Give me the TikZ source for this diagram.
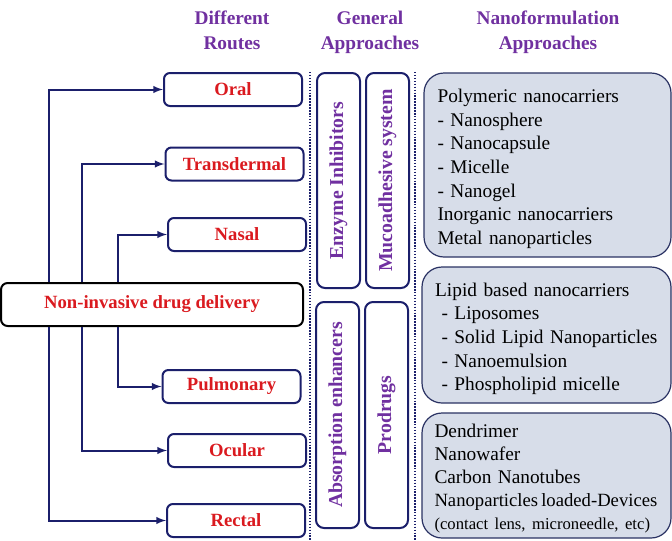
\documentclass[tikz,border=0pt]{standalone}
\usepackage{fontspec}
\setmainfont{Liberation Serif}
\usepackage{xcolor}
\usepackage{pgf,tikz}
\usetikzlibrary{arrows,shapes,positioning,calc}

\definecolor{navy}{HTML}{1B1F6B}
\definecolor{routered}{HTML}{DA1A1F}
\definecolor{headpurple}{HTML}{7030A0}
\definecolor{nanofill}{HTML}{D7DDE9}
\definecolor{nanoline}{HTML}{2A3263}

\begin{document}
\begin{tikzpicture}[x=0.75pt,y=-0.75pt,
    route/.style={shape=rectangle,rounded corners=4.5pt,draw=navy,line width=1.5pt,
      minimum width=103.5pt,minimum height=24.75pt,inner sep=0pt,
      text=routered,font=\fontsize{14}{16}\selectfont\bfseries},
    header/.style={align=center,text=headpurple,font=\fontsize{14.5}{18.75}\selectfont\bfseries},
    approach/.style={shape=rectangle,rounded corners=6pt,draw=navy,line width=1.5pt,
      rotate=90,minimum height=32.25pt,inner sep=0pt,
      text=headpurple,font=\fontsize{14.8}{16}\selectfont\bfseries},
    nano/.style={shape=rectangle,rounded corners=15pt,draw=nanoline,line width=0.9pt,fill=nanofill,
      align=left,inner sep=0pt,font=\fontsize{14.5}{17.75}\selectfont},
    link/.style={draw=navy,line width=1.5pt,->,>=latex},
    sep/.style={draw=navy,line width=1.6pt,dash pattern=on 1.1pt off 1.1pt}]
   \useasboundingbox (0,0) rectangle (672,540);
   % headers
   \node[header] (hroutes) at (232,30) {Different\\Routes};
   \node[header] (hgeneral) at (370,32) {General\\Approaches};
   \node[header] (hnano) at (548,32) {Nanoformulation\\Approaches};
   % routes
   \node[shape=rectangle,rounded corners=5pt,draw=black,line width=1.5pt,
      minimum width=226.5pt,minimum height=32.25pt,inner sep=0pt,
      text=routered,font=\fontsize{14}{16}\selectfont\bfseries] (hub) at (152,304.5) {Non-invasive drug delivery};
   \node[route] (oral) at (233,89.5) {Oral};
   \node[route] (trans) at (234.5,164) {Transdermal};
   \node[route] (nasal) at (237,234.5) {Nasal};
   \node[route] (pulm) at (231.5,386.5) {Pulmonary};
   \node[route] (ocul) at (237,450.5) {Ocular};
   \node[route] (rect) at (236,520.5) {Rectal};
   \coordinate (outer) at (49,0);
   \coordinate (middle) at (81.5,0);
   \coordinate (inner) at (118,0);
   \draw[link] (hub.north -| outer) |- (oral.west);
   \draw[link] (hub.north -| middle) |- (trans.west);
   \draw[link] (hub.north -| inner) |- (nasal.west);
   \draw[link] (hub.south -| inner) |- (pulm.west);
   \draw[link] (hub.south -| middle) |- (ocul.west);
   \draw[link] (hub.south -| outer) |- (rect.west);
   % separators
   \draw[sep] (310,72) -- (310,540);
   \draw[sep] (415,72) -- (415,540);
   % general approaches
   \node[approach,minimum width=161.25pt] (enzyme) at (338.5,180.5) {Enzyme Inhibitors};
   \node[approach,minimum width=161.25pt] (muco) at (387.5,180.5) {Mucoadhesive system};
   \node[approach,minimum width=169.5pt] (absorb) at (337.5,415) {Absorption enhancers};
   \node[approach,minimum width=169.5pt] (prodrug) at (386.5,415) {Prodrugs};
   % nanoformulations
   \node[nano,minimum width=185.25pt,minimum height=138pt,text width=165pt] (poly) at (547.5,165)
      {\rule{0pt}{16pt}Polymeric nanocarriers\\- Nanosphere\\- Nanocapsule\\- Micelle\\- Nanogel\\Inorganic nanocarriers\\Metal nanoparticles};
   \node[nano,minimum width=186.75pt,minimum height=102pt,text width=167pt] (lipid) at (546.5,335)
      {\rule{0pt}{16pt}Lipid based nanocarriers\\\ - Liposomes\\\ - Solid Lipid Nanoparticles\\\ - Nanoemulsion\\\ - Phospholipid micelle};
   \node[nano,minimum width=186.75pt,minimum height=93.75pt,text width=168pt,
      font=\fontsize{14.5}{17.25}\selectfont] (other) at (546.5,475.5)
      {\rule{0pt}{14pt}Dendrimer\\Nanowafer\\Carbon Nanotubes\\\mbox{\fontsize{14}{17.25}\selectfont Nanoparticles\,loaded-Devices}\\{\fontsize{12.5}{15}\selectfont(contact lens, microneedle, etc)}};
\end{tikzpicture}
\end{document}
